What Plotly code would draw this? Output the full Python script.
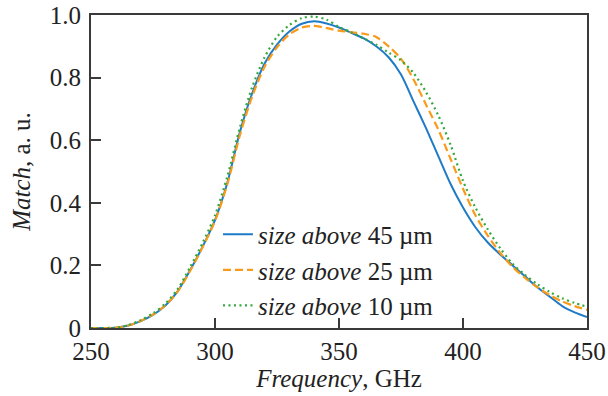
import plotly.graph_objects as go

freq = [250, 255, 260, 265, 270, 275, 280, 285, 290, 295, 300, 305, 310, 315, 320,
        325, 330, 335, 340, 345, 350, 355, 360, 365, 370, 375, 380, 385, 390, 395,
        400, 405, 410, 415, 420, 425, 430, 435, 440, 445, 450]

match_45 = [0, 0, 0.001, 0.008, 0.022, 0.042, 0.072, 0.118, 0.185, 0.26, 0.345,
            0.465, 0.625, 0.75, 0.845, 0.905, 0.947, 0.972, 0.98, 0.973, 0.96,
            0.943, 0.925, 0.9, 0.865, 0.81, 0.725, 0.64, 0.55, 0.46, 0.385,
            0.322, 0.273, 0.235, 0.2, 0.165, 0.13, 0.1, 0.07, 0.05, 0.035]

match_25 = [0, 0, 0.001, 0.008, 0.022, 0.043, 0.073, 0.117, 0.183, 0.258, 0.342,
            0.46, 0.615, 0.74, 0.835, 0.897, 0.938, 0.96, 0.965, 0.958, 0.95,
            0.945, 0.94, 0.93, 0.9, 0.86, 0.795, 0.715, 0.635, 0.54, 0.445,
            0.36, 0.295, 0.24, 0.195, 0.16, 0.13, 0.105, 0.085, 0.07, 0.058]

match_10 = [0, 0, 0.001, 0.009, 0.025, 0.047, 0.078, 0.125, 0.195, 0.272, 0.36,
            0.485, 0.64, 0.77, 0.865, 0.93, 0.968, 0.99, 0.995, 0.985, 0.962,
            0.945, 0.925, 0.905, 0.88, 0.855, 0.815, 0.755, 0.68, 0.585, 0.47,
            0.385, 0.315, 0.255, 0.205, 0.17, 0.14, 0.115, 0.095, 0.08, 0.068]

series_names = ["<i>size above</i> 45 µm", "<i>size above</i> 25 µm", "<i>size above</i> 10 µm"]
x_ticks = [250, 300, 350, 400, 450]
y_ticks = [0, 0.2, 0.4, 0.6, 0.8, 1.0]
y_ticktext = ["0", "0.2", "0.4", "0.6", "0.8", "1.0"]

FONT = "Liberation Serif, Times New Roman, serif"
AXC = "#3a3a3a"
TXT = "#222222"

fig = go.Figure()
fig.add_trace(go.Scatter(x=freq, y=match_45, mode="lines", name=series_names[0],
                         line=dict(color="#1f7bc6", width=2, shape="spline", smoothing=0.8)))
fig.add_trace(go.Scatter(x=freq, y=match_25, mode="lines", name=series_names[1],
                         line=dict(color="#fa9a1a", width=2.2, dash="8px,4px", shape="spline", smoothing=0.8)))
fig.add_trace(go.Scatter(x=freq, y=match_10, mode="lines", name=series_names[2],
                         line=dict(color="#34a83c", width=2.2, dash="2px,3.5px", shape="spline", smoothing=0.8)))

fig.update_layout(
    width=608, height=396,
    margin=dict(l=91, r=21, t=15, b=68, autoexpand=False),
    paper_bgcolor="white", plot_bgcolor="white",
    font=dict(family=FONT, size=25, color=TXT),
    showlegend=True,
    legend=dict(x=0.256, y=0.185, xanchor="left", yanchor="middle",
                bgcolor="rgba(0,0,0,0)", font=dict(family=FONT, size=25, color=TXT),
                itemwidth=30, tracegroupgap=0),
    xaxis=dict(range=[250, 450], tickvals=x_ticks, ticks="inside", ticklen=10,
               tickwidth=1.5, tickcolor=AXC, showline=True, linecolor=AXC, linewidth=2,
               mirror=True, showgrid=False, zeroline=False, automargin=False,
               ticklabeloverflow="allow",
               tickfont=dict(family=FONT, size=25, color=TXT),
               title=dict(text="<i>Frequency</i>, GHz", font=dict(family=FONT, size=25, color=TXT), standoff=2)),
    yaxis=dict(range=[0, 1.0], tickvals=y_ticks, ticktext=y_ticktext, ticks="inside",
               ticklen=10, tickwidth=1.5, tickcolor=AXC, showline=True, linecolor=AXC,
               linewidth=2, mirror=True, showgrid=False, zeroline=False, automargin=False,
               ticklabelstandoff=3, ticklabeloverflow="allow",
               tickfont=dict(family=FONT, size=25, color=TXT),
               title=dict(text="<i>Match</i>, a. u.", font=dict(family=FONT, size=25, color=TXT), standoff=12)),
)

fig.write_html("out.html", config={"displayModeBar": False},
               post_script="document.body.style.margin='0';")
